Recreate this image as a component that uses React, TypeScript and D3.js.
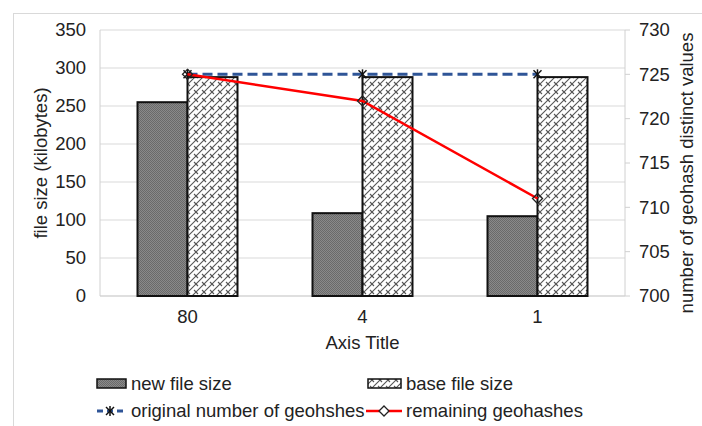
import React from "react";
import * as d3 from "d3";

const categories = ["80", "4", "1"];
const newFileSize = [255, 109, 105];
const baseFileSize = [288, 288, 288];
const originalGeohashes = [725, 725, 725];
const remainingGeohashes = [725, 722, 711];
const leftTicks = [0, 50, 100, 150, 200, 250, 300, 350];
const rightTicks = [700, 705, 710, 715, 720, 725, 730];

const W = 702;
const H = 426;
const L = 100, R = 625, T = 30, B = 296;
const FONT = "Liberation Sans, Arial, sans-serif";
const FS = 18.5;

export default function App() {
  const x0 = d3.scaleBand<string>().domain(categories).range([L, R]).paddingInner(75 / 175).paddingOuter(37.5 / 175);
  const x1 = d3.scaleBand<string>().domain(["new", "base"]).range([0, x0.bandwidth()]);
  const yL = d3.scaleLinear().domain([0, 350]).range([B, T]);
  const yR = d3.scaleLinear().domain([700, 730]).range([B, T]);
  const cx = (c: string) => (x0(c) as number) + x0.bandwidth() / 2;

  const lineGen = d3.line<[number, number]>().x((d) => d[0]).y((d) => d[1]);
  const origPts: [number, number][] = categories.map((c, i) => [cx(c), yR(originalGeohashes[i])]);
  const remPts: [number, number][] = categories.map((c, i) => [cx(c), yR(remainingGeohashes[i])]);

  const star = (x: number, y: number, k: string) => (
    <g key={k} stroke="#111" strokeWidth={1.5}>
      <line x1={x - 4} y1={y - 4} x2={x + 4} y2={y + 4} />
      <line x1={x - 4} y1={y + 4} x2={x + 4} y2={y - 4} />
      <line x1={x} y1={y - 5} x2={x} y2={y + 5} />
    </g>
  );
  const diamond = (x: number, y: number, k: string, fill = "none") => (
    <path key={k} d={`M${x},${y - 5}L${x + 5},${y}L${x},${y + 5}L${x - 5},${y}Z`} fill={fill} stroke="#222" strokeWidth={1.3} />
  );

  return (
    <svg width={W} height={H} style={{ position: "absolute", left: 0, top: 0, background: "#fff" }} fontFamily={FONT}>
      <defs>
        <pattern id="dark" width="2" height="2" patternUnits="userSpaceOnUse">
          <rect width="2" height="2" fill="#8a8a8a" />
          <rect width="1" height="1" fill="#6a6a6a" />
          <rect x="1" y="1" width="1" height="1" fill="#6a6a6a" />
        </pattern>
        <pattern id="brick" width="8" height="8" patternUnits="userSpaceOnUse">
          <rect width="8" height="8" fill="#fff" />
          <path d="M0,8L8,0M-2,2L2,-2M6,10L10,6" stroke="#555" strokeWidth={1.1} />
          <path d="M2,2L6,6" stroke="#555" strokeWidth={1.1} />
        </pattern>
      </defs>
      <rect x={0} y={0} width={W} height={H} fill="#fff" />
      <rect x={13.5} y={13.5} width={W + 10} height={H + 10} fill="none" stroke="#d9d9d9" />

      {leftTicks.map((t) => (
        <line key={"g" + t} x1={L} x2={R} y1={yL(t)} y2={yL(t)} stroke={t === 0 ? "#bfbfbf" : "#d9d9d9"} strokeWidth={1} />
      ))}
      <line x1={L} x2={L} y1={T} y2={B} stroke="#d0d0d0" />
      <line x1={R} x2={R} y1={T} y2={B} stroke="#d0d0d0" />
      {rightTicks.map((t) => (
        <line key={"rt" + t} x1={R} x2={R + 5} y1={yR(t)} y2={yR(t)} stroke="#d0d0d0" />
      ))}

      {categories.map((c, i) => (
        <g key={"b" + c}>
          <rect x={(x0(c) as number) + (x1("new") as number)} y={yL(newFileSize[i])} width={x1.bandwidth()} height={B - yL(newFileSize[i])} fill="url(#dark)" stroke="#111" strokeWidth={2} />
          <rect x={(x0(c) as number) + (x1("base") as number)} y={yL(baseFileSize[i])} width={x1.bandwidth()} height={B - yL(baseFileSize[i])} fill="url(#brick)" stroke="#111" strokeWidth={2} />
        </g>
      ))}

      <path d={lineGen(origPts) || ""} fill="none" stroke="#2f5597" strokeWidth={3} strokeDasharray="10,5" />
      {origPts.map((p, i) => star(p[0], p[1], "s" + i))}
      <path d={lineGen(remPts) || ""} fill="none" stroke="#ff0000" strokeWidth={2.5} />
      {remPts.map((p, i) => diamond(p[0], p[1], "d" + i))}

      {leftTicks.map((t) => (
        <text key={"lt" + t} x={86} y={yL(t)} dy="0.35em" textAnchor="end" fontSize={FS} fill="#222">{t}</text>
      ))}
      {rightTicks.map((t) => (
        <text key={"rl" + t} x={639} y={yR(t)} dy="0.35em" textAnchor="start" fontSize={FS} fill="#222">{t}</text>
      ))}
      {categories.map((c) => (
        <text key={"c" + c} x={cx(c)} y={317} dy="0.35em" textAnchor="middle" fontSize={FS} fill="#222">{c}</text>
      ))}
      <text x={(L + R) / 2} y={343} dy="0.35em" textAnchor="middle" fontSize={FS} fill="#222">Axis Title</text>
      <text transform={`translate(41,${(T + B) / 2}) rotate(-90)`} textAnchor="middle" dy="0.35em" fontSize={FS} fill="#222">file size (kilobytes)</text>
      <text transform={`translate(687,${(T + B) / 2 + 10}) rotate(-90)`} textAnchor="middle" dy="0.35em" fontSize={FS} fill="#222">number of geohash distinct values</text>

      <rect x={97} y={379} width={29} height={9} fill="url(#dark)" stroke="#111" strokeWidth={1.5} />
      <text x={131} y={384} dy="0.35em" fontSize={FS} fill="#222">new file size</text>
      <rect x={368} y={379} width={33} height={9} fill="url(#brick)" stroke="#111" strokeWidth={1.5} />
      <text x={406} y={384} dy="0.35em" fontSize={FS} fill="#222">base file size</text>

      <line x1={97} x2={126} y1={411} y2={411} stroke="#2f5597" strokeWidth={3} strokeDasharray="6,4" />
      {star(110, 411, "ls")}
      <text x={131} y={411} dy="0.35em" fontSize={FS} fill="#222">original number of geohshes</text>
      <line x1={366} x2={402} y1={411} y2={411} stroke="#ff0000" strokeWidth={2.5} />
      {diamond(384, 411, "ld", "#fff")}
      <text x={406} y={411} dy="0.35em" fontSize={FS} fill="#222">remaining geohashes</text>
    </svg>
  );
}
